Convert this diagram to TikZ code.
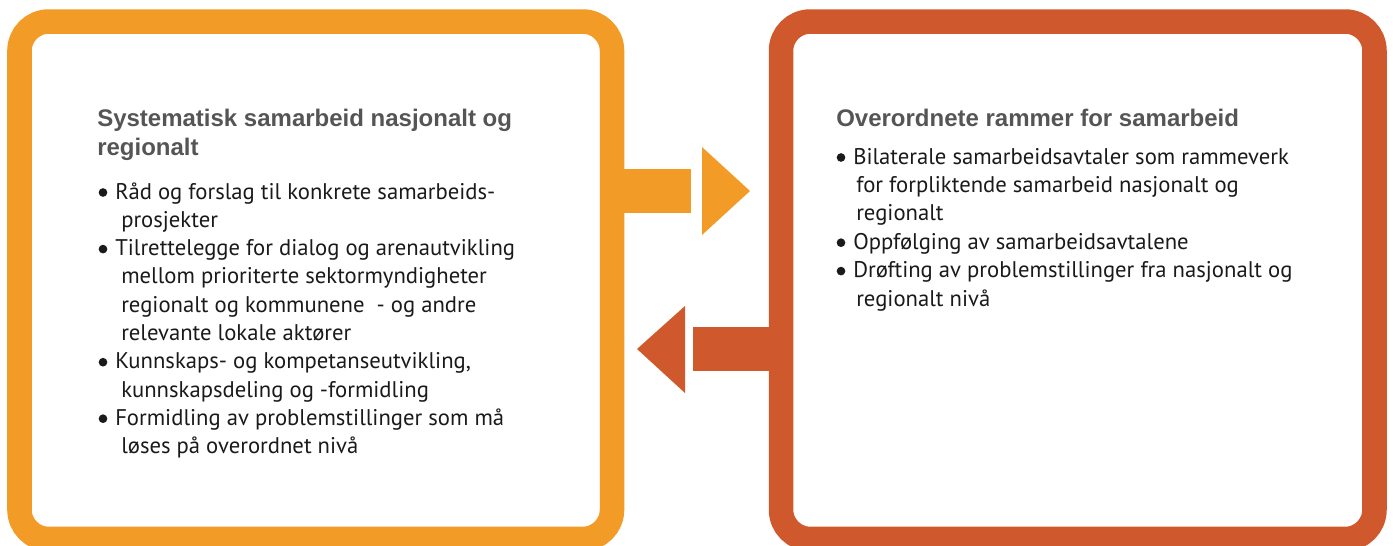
\documentclass[tikz,border=0pt]{standalone}
\usepackage{fontspec}
\setmainfont{PT Sans}
\newfontfamily\titlefont{Liberation Sans}
\definecolor{orangeC}{HTML}{F29B26}
\definecolor{redC}{HTML}{CF592C}
\definecolor{titleC}{HTML}{555555}
\definecolor{bodyC}{HTML}{1A1A1A}
\tikzset{
  frameL/.style={draw=orangeC, line width=18.4pt, rounded corners=22pt, inner sep=0pt, minimum width=444.4pt, minimum height=388.1pt},
  frameR/.style={draw=redC, line width=18.4pt, rounded corners=22pt, inner sep=0pt, minimum width=445.1pt, minimum height=388.1pt},
  ttl/.style={anchor=base west, inner sep=0pt, text=titleC, font=\titlefont\bfseries\fontsize{18pt}{21pt}\selectfont},
  bdy/.style={anchor=base west, inner sep=0pt, text=bodyC, font=\fontsize{17pt}{20pt}\selectfont},
  bulc/.style={circle, fill=bodyC, inner sep=0pt, minimum size=6.5pt},
}
\begin{document}
\begin{tikzpicture}[x=0.75pt, y=-0.75pt]
\useasboundingbox (0,0) rectangle (1393,546);
\clip (0,0) rectangle (1393,546);
% frames
\node[frameL] (leftbox) at (315.75,280.25) {};
\node[frameR] (rightbox) at (1077.75,280.25) {};
% arrows
\fill[orangeC] (612,169) rectangle (691,213);
\fill[orangeC] (702,147) -- (750,191) -- (702,235) -- cycle;
\fill[redC] (693,327) rectangle (781,371);
\fill[redC] (685,306) -- (637,349) -- (685,393) -- cycle;
% left texts
\node[ttl] (lt1) at (97,126.5) {Systematisk samarbeid nasjonalt og};
\node[ttl] (lt2) at (97,155.5) {regionalt};
\node[bulc] (lb1) at (103,192.5) {};
\node[bdy] (l1) at (115,199) {Råd og forslag til konkrete samarbeids-};
\node[bdy] (l2) at (121,227.3) {prosjekter};
\node[bulc] (lb2) at (103,249.1) {};
\node[bdy] (l3) at (115,255.6) {Tilrettelegge for dialog og arenautvikling};
\node[bdy] (l4) at (121,283.8) {mellom prioriterte sektormyndigheter};
\node[bdy] (l5) at (121,312.1) {regionalt og kommunene\ \ - og andre};
\node[bdy] (l6) at (121,340.4) {relevante lokale aktører};
\node[bulc] (lb3) at (103,362.2) {};
\node[bdy] (l7) at (115,368.7) {Kunnskaps- og kompetanseutvikling,};
\node[bdy] (l8) at (121,397) {kunnskapsdeling og -formidling};
\node[bulc] (lb4) at (103,418.7) {};
\node[bdy] (l9) at (115,425.2) {Formidling av problemstillinger som må};
\node[bdy] (l10) at (121,453.5) {løses på overordnet nivå};
% right texts
\node[ttl] (rt1) at (836,126) {Overordnete rammer for samarbeid};
\node[bulc] (rb1) at (841,157.5) {};
\node[bdy] (r1) at (853,164) {Bilaterale samarbeidsavtaler som rammeverk};
\node[bdy] (r2) at (856,192.4) {for forpliktende samarbeid nasjonalt og};
\node[bdy] (r3) at (856,220.8) {regionalt};
\node[bulc] (rb2) at (841,242.7) {};
\node[bdy] (r4) at (853,249.2) {Oppfølging av samarbeidsavtalene};
\node[bulc] (rb3) at (841,271.1) {};
\node[bdy] (r5) at (853,277.6) {Drøfting av problemstillinger fra nasjonalt og};
\node[bdy] (r6) at (856,306) {regionalt nivå};
\end{tikzpicture}
\end{document}
